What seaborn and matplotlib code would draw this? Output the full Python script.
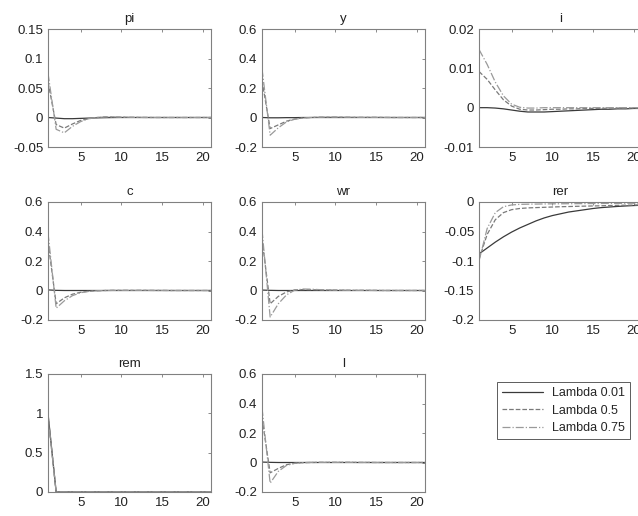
import matplotlib
matplotlib.use("Agg")
import matplotlib.pyplot as plt
import seaborn as sns

sns.set_style("white")
plt.rcParams["font.family"] = ["Liberation Sans", "DejaVu Sans"]

# impulse responses, periods 1..21
periods = list(range(1, 22))
labels = ["Lambda 0.01", "Lambda 0.5", "Lambda 0.75"]

pi_001 = [0.0, -0.001, -0.002, -0.002, -0.0015, -0.001, -0.0006, -0.0003, -0.0001, 0.0, 0.0,
          0.0, 0.0, 0.0, 0.0, 0.0, 0.0, 0.0, 0.0, 0.0, 0.0]
pi_05 = [0.060, -0.012, -0.018, -0.011, -0.005, -0.002, 0.0, 0.001, 0.0008, 0.0005, 0.0003,
         0.0002, 0.0001, 0.0, 0.0, 0.0, 0.0, 0.0, 0.0, 0.0, 0.0]
pi_075 = [0.075, -0.020, -0.026, -0.015, -0.007, -0.002, 0.0, 0.001, 0.001, 0.0006, 0.0004,
          0.0002, 0.0001, 0.0, 0.0, 0.0, 0.0, 0.0, 0.0, 0.0, 0.0]

y_001 = [0.0, -0.002, -0.002, -0.001, -0.001, 0.0, 0.0, 0.0, 0.0, 0.0, 0.0,
         0.0, 0.0, 0.0, 0.0, 0.0, 0.0, 0.0, 0.0, 0.0, 0.0]
y_05 = [0.25, -0.075, -0.05, -0.025, -0.01, -0.003, 0.0, 0.002, 0.002, 0.002, 0.002,
        0.001, 0.001, 0.001, 0.001, 0.0005, 0.0, 0.0, 0.0, 0.0, 0.0]
y_075 = [0.33, -0.12, -0.07, -0.03, -0.012, -0.004, 0.0, 0.002, 0.003, 0.003, 0.002,
         0.002, 0.001, 0.001, 0.001, 0.0005, 0.0, 0.0, 0.0, 0.0, 0.0]

i_001 = [0.0, 0.0, -0.0001, -0.0003, -0.0006, -0.0009, -0.0011, -0.0011, -0.0011, -0.001, -0.0009,
         -0.0008, -0.0007, -0.0006, -0.0005, -0.0004, -0.0004, -0.0003, -0.0003, -0.0002, -0.0002]
i_05 = [0.0092, 0.0072, 0.0045, 0.002, 0.0004, -0.0004, -0.0006, -0.0006, -0.0005, -0.0004, -0.0004,
        -0.0003, -0.0003, -0.0002, -0.0002, -0.0002, -0.0001, -0.0001, -0.0001, -0.0001, -0.0001]
i_075 = [0.0148, 0.011, 0.0065, 0.003, 0.0009, 0.0001, -0.0001, -0.0001, 0.0, 0.0, 0.0,
         0.0, 0.0, 0.0, 0.0, 0.0, 0.0, 0.0, 0.0, 0.0, 0.0]

c_001 = [0.004, 0.001, 0.0, 0.0, 0.0, 0.0, 0.0, 0.0, 0.0, 0.0, 0.0,
         0.0, 0.0, 0.0, 0.0, 0.0, 0.0, 0.0, 0.0, 0.0, 0.0]
c_05 = [0.33, -0.09, -0.05, -0.025, -0.012, -0.005, -0.002, 0.0, 0.001, 0.001, 0.001,
        0.001, 0.001, 0.0005, 0.0005, 0.0, 0.0, 0.0, 0.0, 0.0, 0.0]
c_075 = [0.39, -0.12, -0.07, -0.035, -0.015, -0.006, -0.002, 0.0, 0.001, 0.001, 0.001,
         0.001, 0.001, 0.0005, 0.0005, 0.0, 0.0, 0.0, 0.0, 0.0, 0.0]

wr_001 = [0.003, 0.001, 0.0, 0.0, 0.0, 0.0, 0.0, 0.0, 0.0, 0.0, 0.0,
          0.0, 0.0, 0.0, 0.0, 0.0, 0.0, 0.0, 0.0, 0.0, 0.0]
wr_05 = [0.35, -0.09, -0.04, -0.01, 0.004, 0.006, 0.005, 0.004, 0.003, 0.002, 0.002,
         0.001, 0.001, 0.001, 0.0005, 0.0, 0.0, 0.0, 0.0, 0.0, 0.0]
wr_075 = [0.41, -0.18, -0.09, -0.03, 0.002, 0.01, 0.009, 0.006, 0.004, 0.003, 0.002,
          0.001, 0.001, 0.001, 0.0005, 0.0, 0.0, 0.0, 0.0, 0.0, 0.0]

rer_001 = [-0.088, -0.078, -0.068, -0.059, -0.051, -0.044, -0.038, -0.032, -0.027, -0.023, -0.020,
           -0.017, -0.015, -0.013, -0.011, -0.0095, -0.0085, -0.0075, -0.0067, -0.006, -0.0055]
rer_05 = [-0.097, -0.055, -0.030, -0.018, -0.013, -0.011, -0.010, -0.0095, -0.009, -0.0085, -0.008,
          -0.0077, -0.0073, -0.007, -0.0067, -0.0064, -0.006, -0.0057, -0.0054, -0.0052, -0.005]
rer_075 = [-0.100, -0.045, -0.018, -0.008, -0.005, -0.004, -0.0037, -0.0035, -0.0033, -0.0031, -0.003,
           -0.0029, -0.0028, -0.0027, -0.0026, -0.0025, -0.0024, -0.0023, -0.0022, -0.0021, -0.002]

rem_001 = [1.0, 0.0, 0.0, 0.0, 0.0, 0.0, 0.0, 0.0, 0.0, 0.0, 0.0,
           0.0, 0.0, 0.0, 0.0, 0.0, 0.0, 0.0, 0.0, 0.0, 0.0]
rem_05 = [0.98, 0.0, 0.0, 0.0, 0.0, 0.0, 0.0, 0.0, 0.0, 0.0, 0.0,
          0.0, 0.0, 0.0, 0.0, 0.0, 0.0, 0.0, 0.0, 0.0, 0.0]
rem_075 = [0.96, 0.0, 0.0, 0.0, 0.0, 0.0, 0.0, 0.0, 0.0, 0.0, 0.0,
           0.0, 0.0, 0.0, 0.0, 0.0, 0.0, 0.0, 0.0, 0.0, 0.0]

l_001 = [0.003, 0.001, 0.0, 0.0, 0.0, 0.0, 0.0, 0.0, 0.0, 0.0, 0.0,
         0.0, 0.0, 0.0, 0.0, 0.0, 0.0, 0.0, 0.0, 0.0, 0.0]
l_05 = [0.30, -0.07, -0.04, -0.015, -0.005, -0.001, 0.0, 0.001, 0.001, 0.001, 0.001,
        0.001, 0.0005, 0.0005, 0.0, 0.0, 0.0, 0.0, 0.0, 0.0, 0.0]
l_075 = [0.37, -0.14, -0.06, -0.02, -0.006, -0.001, 0.001, 0.001, 0.001, 0.001, 0.001,
         0.001, 0.0005, 0.0005, 0.0, 0.0, 0.0, 0.0, 0.0, 0.0, 0.0]

panels = [
    ("pi", [pi_001, pi_05, pi_075], [-0.05, 0, 0.05, 0.1, 0.15], ["-0.05", "0", "0.05", "0.1", "0.15"]),
    ("y", [y_001, y_05, y_075], [-0.2, 0, 0.2, 0.4, 0.6], ["-0.2", "0", "0.2", "0.4", "0.6"]),
    ("i", [i_001, i_05, i_075], [-0.01, 0, 0.01, 0.02], ["-0.01", "0", "0.01", "0.02"]),
    ("c", [c_001, c_05, c_075], [-0.2, 0, 0.2, 0.4, 0.6], ["-0.2", "0", "0.2", "0.4", "0.6"]),
    ("wr", [wr_001, wr_05, wr_075], [-0.2, 0, 0.2, 0.4, 0.6], ["-0.2", "0", "0.2", "0.4", "0.6"]),
    ("rer", [rer_001, rer_05, rer_075], [-0.2, -0.15, -0.1, -0.05, 0], ["-0.2", "-0.15", "-0.1", "-0.05", "0"]),
    ("rem", [rem_001, rem_05, rem_075], [0, 0.5, 1, 1.5], ["0", "0.5", "1", "1.5"]),
    ("l", [l_001, l_05, l_075], [-0.2, 0, 0.2, 0.4, 0.6], ["-0.2", "0", "0.2", "0.4", "0.6"]),
]

colors = ["#3a3a3a", "#7a7a7a", "#9a9a9a"]
styles = ["-", "--", "-."]

W, H = 638, 516
fig = plt.figure(figsize=(W / 100, H / 100), dpi=100)

col_left = [48, 262, 479]
row_top = [29, 202, 374]
aw, ah = 163, 118

for k, (name, series, yt, ytl) in enumerate(panels):
    r, c = divmod(k, 3)
    ax = fig.add_axes([col_left[c] / W, 1 - (row_top[r] + ah) / H, aw / W, ah / H])
    for vals, col, ls, lab in zip(series, colors, styles, labels):
        sns.lineplot(x=periods, y=vals, ax=ax, color=col, linestyle=ls,
                     linewidth=0.9, label=lab, legend=False)
    ax.set_xlim(1, 21)
    ax.set_ylim(yt[0], yt[-1])
    ax.set_xticks([5, 10, 15, 20])
    ax.set_yticks(yt)
    ax.set_yticklabels(ytl)
    ax.set_title(name, fontsize=9.5, color="#222222", pad=5)
    ax.tick_params(direction="in", length=2.5, width=0.6, color="#777777",
                   labelsize=9.5, labelcolor="#222222", top=True, right=True, pad=3.5)
    for sp in ax.spines.values():
        sp.set_color("#808080")
        sp.set_linewidth(0.8)
    if k == 0:
        handles = ax.get_lines()

leg = fig.legend(handles, labels, loc="upper left",
                 bbox_to_anchor=(497 / W, 1 - 382 / H), fontsize=9,
                 frameon=True, fancybox=False, handlelength=3.3,
                 handletextpad=0.7, borderpad=0.4, labelspacing=0.45,
                 borderaxespad=0)
leg.get_frame().set_edgecolor("#333333")
leg.get_frame().set_linewidth(0.7)

fig.savefig("out.png", dpi=100)
